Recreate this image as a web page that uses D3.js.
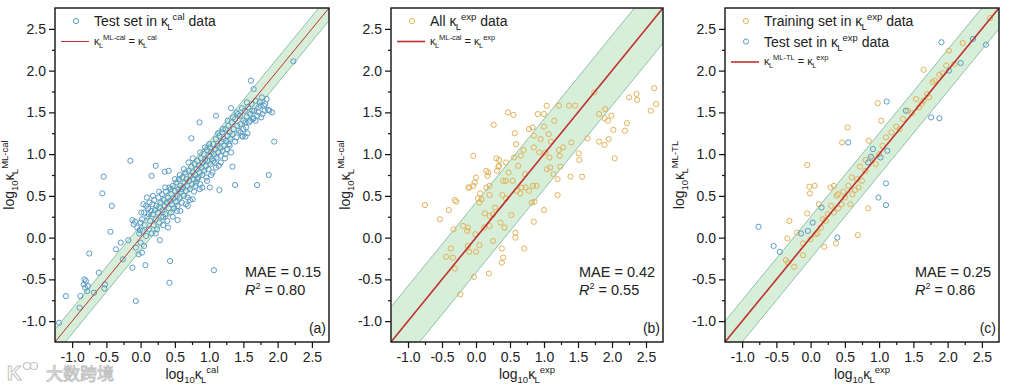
<!DOCTYPE html>
<html><head><meta charset="utf-8">
<script src="https://cdn.jsdelivr.net/npm/d3@7"></script>
<style>body{margin:0;background:#fff}svg{display:block;font-family:Arial,"Liberation Sans",sans-serif}</style>
</head><body><svg id="c" width="1009" height="387"></svg>
<script>
// ---------- data ----------
const axisDomain = [-1.25, 2.75];
const tickValues = [-1.0, -0.5, 0.0, 0.5, 1.0, 1.5, 2.0, 2.5];
const tickLabels = ["-1.0", "-0.5", "0.0", "0.5", "1.0", "1.5", "2.0", "2.5"];
const minorTickValues = [-0.75, -0.25, 0.25, 0.75, 1.25, 1.75, 2.25];
const panelLetters = ["(a)", "(b)", "(c)"];
const maeValues = [0.15, 0.42, 0.25];
const r2Values = [0.80, 0.55, 0.86];

// (a) test set in kappa_L^cal data : [log10 kL^cal, log10 kL^ML-cal]
const testCalA = [
[2.23,2.11],[1.61,1.88],[1.65,1.78],[1.77,1.68],[1.81,1.52],[1.92,1.50],[1.86,1.53],[0.86,1.38],[1.10,1.46],[1.32,1.55],
[0.74,1.19],[1.95,1.15],[-0.15,0.92],[0.22,0.86],[-0.54,0.73],[-0.56,0.53],[0.16,0.74],[1.87,0.75],[1.70,0.63],[1.38,0.63],
[1.34,0.85],[1.01,0.60],[1.15,0.57],[-0.42,0.38],[-0.44,0.07],[-0.75,-0.19],[-0.61,-0.42],[-0.82,-0.50],[-0.83,-0.56],[-0.81,-0.60],
[-0.78,-0.64],[-0.88,-0.70],[-1.09,-0.70],[-1.19,-1.02],[-0.89,-0.84],[-0.52,-0.56],[-0.53,-0.61],[-0.68,-0.66],[-0.12,-0.36],[-0.07,-0.76],
[0.07,-0.33],[0.28,-0.03],[0.43,-0.28],[0.42,-0.54],[1.07,-0.39],[-0.36,-0.14],[-0.29,-0.06],[-0.26,-0.26],[-0.80,-0.52],[-0.77,-0.58],
[0.54,0.21],[0.35,0.79],[0.41,0.80],[0.69,0.38],[0.76,0.46],[0.58,0.32],[0.86,0.58],[-0.12,0.21],[-0.10,0.16],[-0.08,0.19],
[-0.01,0.09],[0.00,-0.06],[0.05,-0.10],[-0.18,-0.03],[-0.07,-0.12],[-0.03,-0.20],[0.02,-0.18],[1.65,1.43],[1.53,1.21],[1.49,1.21],
[-0.05,0.12],[-0.02,0.05],[0.00,0.18],[0.02,0.22],[0.03,0.08],[0.05,0.30],[0.06,0.15],[0.08,0.38],[0.08,0.02],[0.10,0.25],
[0.11,0.35],[0.12,0.10],[0.13,0.42],[0.14,0.20],[0.15,0.32],[0.16,0.05],[0.17,0.40],[0.18,0.28],[0.19,0.15],[0.20,0.45],
[0.21,0.33],[0.22,0.22],[0.23,0.38],[0.24,0.10],[0.25,0.30],[0.26,0.48],[0.27,0.18],[0.28,0.36],[0.29,0.42],[0.30,0.25],
[0.31,0.52],[0.32,0.33],[0.33,0.15],[0.34,0.45],[0.35,0.38],[0.36,0.28],[0.37,0.55],[0.38,0.42],[0.39,0.20],[0.40,0.48],
[0.41,0.35],[0.42,0.60],[0.43,0.44],[0.44,0.30],[0.45,0.52],[0.46,0.40],[0.47,0.62],[0.48,0.47],[0.49,0.35],[0.50,0.56],
[0.51,0.43],[0.52,0.66],[0.53,0.50],[0.54,0.38],[0.55,0.58],[0.56,0.70],[0.57,0.48],[0.58,0.62],[0.59,0.55],[0.60,0.42],
[0.61,0.72],[0.62,0.60],[0.63,0.50],[0.64,0.66],[0.65,0.78],[0.66,0.56],[0.67,0.70],[0.68,0.62],[0.69,0.48],[0.70,0.80],
[0.71,0.68],[0.72,0.58],[0.73,0.74],[0.74,0.85],[0.75,0.64],[0.76,0.78],[0.77,0.70],[0.78,0.55],[0.79,0.88],[0.80,0.75],
[0.81,0.66],[0.82,0.82],[0.83,0.92],[0.84,0.72],[0.85,0.86],[0.86,0.78],[0.87,0.64],[0.88,0.95],[0.89,0.84],[0.90,0.75],
[0.91,0.90],[0.92,1.00],[0.93,0.80],[0.94,0.93],[0.95,0.86],[0.96,0.72],[0.97,1.05],[0.98,0.92],[0.99,0.82],[1.00,0.98],
[1.01,1.08],[1.02,0.88],[1.03,1.02],[1.04,0.94],[1.05,0.78],[1.06,1.12],[1.07,1.00],[1.08,0.90],[1.09,1.06],[1.10,1.18],
[1.11,0.96],[1.12,1.10],[1.13,1.02],[1.14,0.86],[1.15,1.22],[1.16,1.08],[1.17,0.98],[1.18,1.15],[1.19,1.26],[1.20,1.04],
[1.21,1.18],[1.22,1.10],[1.23,0.95],[1.24,1.30],[1.25,1.16],[1.26,1.06],[1.27,1.22],[1.28,1.34],[1.29,1.12],[1.30,1.26],
[1.31,1.18],[1.32,1.02],[1.33,1.38],[1.34,1.24],[1.36,1.30],[1.38,1.42],[1.40,1.20],[1.41,1.34],[1.43,1.28],[1.45,1.46],
[1.46,1.36],[1.48,1.22],[1.50,1.40],[1.52,1.52],[1.54,1.32],[1.55,1.45],[1.57,1.56],[1.58,1.38],[1.60,1.48],[1.62,1.60],
[1.64,1.42],[1.66,1.52],[1.68,1.64],[1.70,1.46],[1.72,1.56],[1.74,1.62],[1.76,1.44],[1.80,1.58],[1.84,1.66],[1.88,1.52],
[0.01,0.30],[0.04,0.40],[0.09,0.48],[0.12,0.28],[0.18,0.50],[0.22,0.05],[0.27,0.55],[0.33,0.25],[0.36,0.60],[0.40,0.12],
[0.44,0.58],[0.47,0.25],[0.50,0.70],[0.53,0.32],[0.57,0.75],[0.60,0.58],[0.63,0.82],[0.66,0.40],[0.70,0.90],[0.72,0.45],
[0.76,0.95],[0.80,0.62],[0.83,0.70],[0.87,1.02],[0.90,0.60],[0.94,1.08],[0.97,0.68],[1.00,1.12],[1.03,0.75],[1.06,0.92],
[1.10,0.84],[1.13,1.25],[1.17,0.90],[1.20,1.30],[1.24,1.00],[1.27,1.40],[1.30,1.10],[1.35,1.44],[1.38,1.15],[1.42,1.48],
[1.46,1.26],[1.50,1.30],[1.53,1.38],[1.56,1.25],[1.60,1.40],[1.63,1.52],[1.68,1.40],[1.72,1.50],[1.75,1.58],[1.78,1.48],
[1.82,1.60],[1.55,1.62],[1.48,1.55],[1.40,1.50]
];

// (b) all kappa_L^exp data : [log10 kL^exp, log10 kL^ML-cal]
const allExpB = [
[2.62,1.79],[2.65,1.60],[2.57,1.52],[2.36,1.72],[2.37,1.65],[2.25,1.68],[2.22,1.37],[2.19,1.28],[2.02,1.29],[2.04,0.95],
[1.95,1.18],[1.89,1.11],[1.81,1.15],[1.89,1.43],[1.99,1.46],[1.90,1.54],[1.94,1.40],[1.74,1.74],[1.81,1.48],[1.64,1.19],
[1.56,0.73],[1.51,1.01],[1.52,0.93],[1.37,1.58],[1.46,1.58],[1.22,1.58],[1.04,1.58],[0.91,1.48],[1.00,1.48],[0.47,1.50],
[0.55,1.47],[0.26,1.35],[0.78,1.30],[0.83,1.32],[0.57,1.25],[1.00,1.33],[1.15,1.40],[1.07,1.24],[0.85,1.22],[0.59,1.12],
[-0.04,0.98],[0.34,0.93],[0.34,0.86],[0.18,0.78],[0.15,0.80],[0.56,0.96],[0.62,0.86],[0.72,0.76],[0.85,1.08],[0.93,1.02],
[1.02,1.02],[1.08,0.96],[1.23,0.98],[1.04,0.82],[1.09,0.84],[1.14,0.76],[1.24,0.85],[1.40,1.14],[1.22,1.05],[1.28,1.08],
[1.20,0.70],[1.39,0.73],[0.40,0.68],[0.44,0.68],[0.54,0.68],[0.67,0.60],[0.73,0.60],[0.84,0.62],[0.89,0.62],[1.20,0.51],
[0.00,0.72],[-0.04,0.62],[-0.02,0.66],[0.15,0.60],[0.20,0.62],[-0.11,0.60],[-0.31,0.45],[-0.75,0.39],[-0.53,0.22],[-0.40,0.33],
[-0.29,0.43],[-0.33,0.10],[-0.19,0.14],[-0.13,0.08],[-0.12,0.12],[-0.37,-0.13],[-0.44,-0.23],[-0.34,-0.24],[-0.31,-0.37],[-0.23,-0.68],
[-0.10,-0.17],[-0.12,-0.10],[-0.01,0.04],[0.00,-0.17],[0.05,-0.09],[-0.03,-0.47],[0.19,-0.43],[0.25,-0.04],[0.03,0.47],[0.08,0.46],
[0.05,0.42],[0.20,0.51],[0.13,0.29],[0.20,0.26],[0.25,0.28],[0.28,0.36],[0.20,0.14],[0.12,0.12],[0.36,0.18],[0.39,0.51],
[0.44,0.47],[0.42,0.12],[0.38,-0.13],[0.40,-0.24],[0.38,-0.30],[0.52,0.27],[0.58,0.06],[0.58,0.00],[0.71,-0.13],[0.65,0.53],
[0.78,0.56],[0.82,0.42],[0.86,0.43],[0.85,0.19],[1.00,0.33],[0.06,0.53],[0.31,0.80],[0.33,0.85],[0.17,0.74],[-0.10,0.60],
[0.60,0.56],[0.48,0.78],[0.70,1.05],[0.95,1.18],[0.66,0.98],[0.30,0.95],[0.44,0.90],[1.10,1.15]
];

// (c) training set in kappa_L^exp data : [log10 kL^exp, log10 kL^ML-TL]
const trainExpC = [
[2.62,2.63],[2.22,2.33],[2.02,2.24],[1.98,2.06],[1.93,1.97],[1.88,1.95],[1.81,1.88],[1.78,1.86],[1.65,2.01],[1.73,1.68],
[1.65,1.64],[1.54,1.66],[1.48,1.49],[1.42,1.52],[0.98,1.61],[1.03,1.40],[0.54,1.32],[0.46,1.14],[1.00,1.00],[0.85,1.16],
[1.10,1.20],[1.18,1.26],[1.25,1.33],[1.30,1.30],[1.35,1.42],[1.58,1.56],[1.62,1.60],[1.70,1.72],[2.10,2.08],
[-0.05,0.87],[-0.02,0.61],[0.06,0.62],[-0.01,0.53],[0.29,0.60],[0.34,0.62],[0.84,0.35],[0.69,0.03],[0.20,-0.11],[0.37,-0.07],
[-0.11,-0.21],[-0.24,-0.35],[-0.36,-0.27],[-0.33,-0.30],[-0.34,-0.01],[-0.31,0.20],[-0.20,0.06],[-0.05,0.29],[0.12,0.40],[0.00,-0.02],
[-0.11,-0.07],[0.07,0.04],[0.34,0.30],[0.40,0.35],[0.45,0.40],[0.61,0.52],[0.65,0.57],[0.55,0.62],[0.48,0.55],[0.50,0.48],
[0.30,0.38],[0.22,0.20],[0.15,0.12],[0.10,0.05],[0.25,0.28],[0.18,0.22],[0.70,0.60],[0.75,0.68],[0.80,0.80],[0.60,0.72],
[0.90,0.95],[0.95,0.88],[0.72,0.85],[0.80,0.93],[0.40,0.52],[0.58,0.40],[0.38,0.50],[1.05,1.10],[0.68,0.70]
];

// (c) test set in kappa_L^exp data
const testExpC = [
[1.91,2.34],[2.56,2.31],[2.37,2.38],[2.19,2.09],[2.02,2.00],[1.76,1.44],[1.88,1.43],[1.11,1.63],[1.39,1.52],[0.55,1.14],
[0.91,1.06],[1.12,1.04],[1.02,0.96],[0.88,0.97],[0.84,0.90],[1.10,0.65],[0.99,0.48],[1.10,0.39],[0.16,0.36],[-0.76,0.13],
[0.03,0.18],[-0.04,0.08],[-0.14,0.05],[-0.54,-0.10],[-0.45,-0.17],[0.39,0.00]
];

// ---------- drawing ----------
const svg = d3.select("#c");
const TOP = 8, BOTTOM = 342;
const BLUE = "#5b9cc6", ORANGE = "#e2b25a", RED = "#c0302b";
const BANDFILL = "#d7efd9", BANDEDGE = "#8fc1ac";
const TEXT = "#222";

const panels = [
  {left:55, right:329, lw:1, series:[{data:testCalA, color:BLUE}],
   legend:[{color:BLUE, parts:[["Test set in "],["κ","k"],["cal","sup"],[" data"]]}],
   lineLegend:[["κ","k"],["ML-cal","sup"],[" = "],["κ","k"],["cal","sup"]],
   ylab:"ML-cal", xlab:"cal"},
  {left:391, right:663, lw:1.6, series:[{data:allExpB, color:ORANGE}],
   legend:[{color:ORANGE, parts:[["All "],["κ","k"],["exp","sup"],[" data"]]}],
   lineLegend:[["κ","k"],["ML-cal","sup"],[" = "],["κ","k"],["exp","sup"]],
   ylab:"ML-cal", xlab:"exp"},
  {left:725, right:999, lw:1.6, series:[{data:trainExpC, color:ORANGE},{data:testExpC, color:BLUE}],
   legend:[{color:ORANGE, parts:[["Training set in "],["κ","k"],["exp","sup"],[" data"]]},
           {color:BLUE, parts:[["Test set in "],["κ","k"],["exp","sup"],[" data"]]}],
   lineLegend:[["κ","k"],["ML-TL","sup"],[" = "],["κ","k"],["exp","sup"]],
   ylab:"ML-TL", xlab:"exp"}
];

// rich text: kappa with subscript L, super/subscripts; dy accumulated on visible tspans
function rich(textSel, parts, base) {
  let cur = 0;
  const put = (t, off, size, dx) => {
    const ts = textSel.append("tspan").attr("dy", off - cur).attr("font-size", size).text(t);
    if (dx) ts.attr("dx", dx);
    cur = off;
  };
  parts.forEach(([t, kind]) => {
    if (kind === "k") {
      put(t, 0, base);
      put("L", base * 0.3, base * 0.68, -base * 0.05);
    } else if (kind === "sup") {
      put(t, -base * 0.42, base * 0.68);
    } else if (kind === "sub") {
      put(t, base * 0.3, base * 0.68);
    } else {
      put(t, 0, base);
    }
  });
}

panels.forEach((p, i) => {
  const x = d3.scaleLinear().domain(axisDomain).range([p.left, p.right]);
  const y = d3.scaleLinear().domain(axisDomain).range([BOTTOM, TOP]);
  const g = svg.append("g");
  const clipId = "clip" + i;
  svg.append("clipPath").attr("id", clipId).append("rect")
    .attr("x", p.left).attr("y", TOP).attr("width", p.right - p.left).attr("height", BOTTOM - TOP);
  const plot = g.append("g").attr("clip-path", `url(#${clipId})`);
  const line = d3.line().x(v => x(v[0])).y(v => y(v[1]));

  const d = maeValues[i];
  const ext = [-3, 5];
  plot.append("path").attr("d", line([[ext[0], ext[0]+d],[ext[1], ext[1]+d],[ext[1], ext[1]-d],[ext[0], ext[0]-d]]) + "Z")
    .attr("fill", BANDFILL).attr("stroke", "none");
  [d, -d].forEach(o => {
    plot.append("path").attr("d", line([[ext[0], ext[0]+o],[ext[1], ext[1]+o]]))
      .attr("stroke", BANDEDGE).attr("stroke-width", 1).attr("fill", "none");
  });
  p.series.forEach(s => {
    plot.append("g").selectAll("circle").data(s.data).join("circle")
      .attr("cx", v => x(v[0])).attr("cy", v => y(v[1])).attr("r", 2.6)
      .attr("fill", "none").attr("stroke", s.color).attr("stroke-width", 1);
  });
  plot.append("path").attr("d", line([[ext[0], ext[0]],[ext[1], ext[1]]]))
    .attr("stroke", RED).attr("stroke-width", p.lw).attr("fill", "none");

  // axes
  const fmt = v => tickLabels[tickValues.indexOf(v)];
  const ax = g.append("g").attr("transform", `translate(0,${BOTTOM})`)
    .call(d3.axisBottom(x).tickValues(tickValues).tickFormat(fmt).tickSize(6).tickPadding(4));
  const axm = g.append("g").attr("transform", `translate(0,${BOTTOM})`)
    .call(d3.axisBottom(x).tickValues(minorTickValues).tickFormat("").tickSize(3));
  const ay = g.append("g").attr("transform", `translate(${p.left},0)`)
    .call(d3.axisLeft(y).tickValues(tickValues).tickFormat(fmt).tickSize(6).tickPadding(3));
  const aym = g.append("g").attr("transform", `translate(${p.left},0)`)
    .call(d3.axisLeft(y).tickValues(minorTickValues).tickFormat("").tickSize(3));
  [ax, axm, ay, aym].forEach(a => {
    a.select(".domain").remove();
    a.selectAll("line").attr("stroke", "#111").attr("stroke-width", 1.2);
    a.selectAll("text").attr("font-size", 14).attr("fill", TEXT).attr("font-family", "Arial, 'Liberation Sans', sans-serif");
  });
  g.append("rect").attr("x", p.left).attr("y", TOP).attr("width", p.right - p.left).attr("height", BOTTOM - TOP)
    .attr("fill", "none").attr("stroke", "#111").attr("stroke-width", 1.4);

  // legend
  let ly = 21;
  p.legend.forEach(l => {
    g.append("circle").attr("cx", p.left + 21).attr("cy", ly).attr("r", 2.6)
      .attr("fill", "none").attr("stroke", l.color).attr("stroke-width", 1);
    const t = g.append("text").attr("x", p.left + 39).attr("y", ly + 5).attr("font-size", 14).attr("fill", TEXT);
    rich(t, l.parts, 14);
    ly += 20.5;
  });
  g.append("line").attr("x1", p.left + 6).attr("x2", p.left + 34).attr("y1", ly).attr("y2", ly)
    .attr("stroke", RED).attr("stroke-width", p.lw);
  const lt = g.append("text").attr("x", p.left + 39).attr("y", ly + 3).attr("font-size", 11).attr("fill", TEXT);
  rich(lt, p.lineLegend, 11);

  // stats
  g.append("text").attr("x", p.right - 84).attr("y", 277).attr("font-size", 14.5).attr("fill", TEXT)
    .text("MAE = " + maeValues[i].toFixed(2));
  const r2 = g.append("text").attr("x", p.right - 84).attr("y", 295).attr("font-size", 14.5).attr("fill", TEXT);
  r2.append("tspan").attr("font-style", "italic").text("R");
  r2.append("tspan").attr("font-size", 9).attr("dy", -6).text("2");
  r2.append("tspan").attr("dy", 6).text(" = " + r2Values[i].toFixed(2));
  g.append("text").attr("x", p.right - 3).attr("y", 333).attr("text-anchor", "end").attr("font-size", 14).attr("fill", TEXT)
    .text(panelLetters[i]);

  // axis titles
  const xt = g.append("text").attr("x", (p.left + p.right) / 2).attr("y", 379).attr("text-anchor", "middle")
    .attr("font-size", 14).attr("fill", TEXT);
  rich(xt, [["log"],["10","sub"],["κ","k"],[p.xlab,"sup"]], 14);
  const yt = g.append("text").attr("transform", `translate(${p.left - 41},${(TOP + BOTTOM) / 2}) rotate(-90)`)
    .attr("text-anchor", "middle").attr("font-size", 14).attr("fill", TEXT);
  rich(yt, [["log"],["10","sub"],["κ","k"],[p.ylab,"sup"]], 14);
});

// watermark (kept just below the tick labels, inside the picture)
const wm = svg.append("g").attr("opacity", 0.9);
wm.append("text").attr("x", 7).attr("y", 380).attr("font-size", 20).attr("font-weight", "bold")
  .attr("fill", "#fff").attr("stroke", "#bdbdbd").attr("stroke-width", 1).text("K");
[[27,366],[34,366]].forEach(c => wm.append("circle").attr("cx", c[0]).attr("cy", c[1]).attr("r", 3.5)
  .attr("fill", "#fff").attr("stroke", "#bdbdbd").attr("stroke-width", 1.2));
wm.append("text").attr("x", 46).attr("y", 380).attr("font-size", 17)
  .attr("font-family", "'Noto Sans CJK SC', sans-serif")
  .attr("fill", "#fff").attr("stroke", "#bdbdbd").attr("stroke-width", 1).text("大数跨境");
</script></body></html>
